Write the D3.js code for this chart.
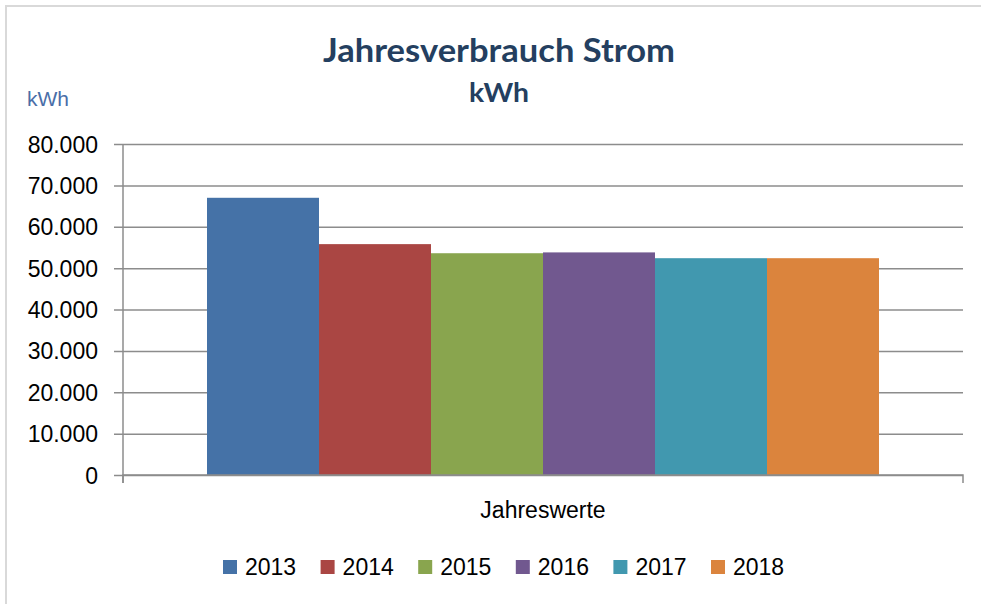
<!DOCTYPE html>
<html>
<head>
<meta charset="utf-8">
<script src="https://cdn.jsdelivr.net/npm/d3@7"></script>
<style>
  body { margin: 0; background: #fff; }
  svg { display: block; font-family: "Liberation Sans", Arial, sans-serif; }
</style>
</head>
<body>
<div id="chart"></div>
<script>
// data
const category = ["Jahreswerte"];
const years = ["2013", "2014", "2015", "2016", "2017", "2018"];
const values = [67000, 55800, 53600, 53800, 52400, 52400];
const colors = ["#4572a7", "#aa4643", "#89a54e", "#71588f", "#4198af", "#db843d"];
const yTicks = [0, 10000, 20000, 30000, 40000, 50000, 60000, 70000, 80000];

const W = 981, H = 604;
const margin = { top: 144, right: 18, bottom: 129, left: 123 };

const svg = d3.select("#chart").append("svg")
  .attr("width", W)
  .attr("height", H);

// outer chart frame (right/bottom edges fall outside the picture)
svg.append("rect")
  .attr("x", 6).attr("y", 6)
  .attr("width", W + 20).attr("height", H + 20)
  .attr("fill", "#fff")
  .attr("stroke", "#d9d9d9")
  .attr("stroke-width", 2);

const x0 = d3.scaleBand()
  .domain(category)
  .range([margin.left, W - margin.right]);

// Excel gap width 150% -> 0.75 step on each side
const x1 = d3.scaleBand()
  .domain(years)
  .range([0, x0.bandwidth()])
  .paddingInner(0)
  .paddingOuter(0.75);

const y = d3.scaleLinear()
  .domain([0, 80000])
  .range([H - margin.bottom, margin.top]);

const fmt = d3.formatLocale({ decimal: ",", thousands: ".", grouping: [3], currency: ["", "€"] }).format(",d");

// gridlines + y labels
const yAxis = d3.axisLeft(y)
  .tickValues(yTicks)
  .tickPadding(0)
  .tickFormat(fmt);

const gy = svg.append("g")
  .attr("transform", `translate(${margin.left},0)`)
  .call(yAxis);
gy.select(".domain").remove();
gy.selectAll(".tick line")
  .attr("x1", -9)
  .attr("x2", x0.range()[1] - margin.left)
  .attr("stroke", "#8c8c8c")
  .attr("stroke-width", 1.5);
gy.selectAll(".tick text")
  .attr("x", -25)
  .attr("dy", "0.35em")
  .attr("fill", "#000")
  .style("font-size", "23px")
  .style("font-family", "'Liberation Sans', Arial, sans-serif");

// y axis line
svg.append("line")
  .attr("x1", margin.left).attr("x2", margin.left)
  .attr("y1", y(80000)).attr("y2", y(0) + 8)
  .attr("stroke", "#8c8c8c")
  .attr("stroke-width", 1.5);

// bars
const g = svg.append("g")
  .attr("transform", `translate(${x0(category[0])},0)`);

g.selectAll("rect")
  .data(years)
  .join("rect")
  .attr("x", d => x1(d))
  .attr("width", x1.bandwidth())
  .attr("y", (d, i) => y(values[i]))
  .attr("height", (d, i) => y(0) - y(values[i]))
  .attr("fill", (d, i) => colors[i]);

// x axis
const gx = svg.append("g")
  .attr("transform", `translate(0,${y(0)})`)
  .call(d3.axisBottom(x0).tickSize(0).tickFormat(""));
gx.select(".domain")
  .attr("d", `M${margin.left},8V0H${W - margin.right}V8`)
  .attr("stroke", "#8c8c8c")
  .attr("stroke-width", 1.5)
  .attr("fill", "none");

svg.append("text")
  .attr("x", x0(category[0]) + x0.bandwidth() / 2)
  .attr("y", 518)
  .attr("text-anchor", "middle")
  .style("font-size", "23px")
  .text(category[0]);

// titles
svg.append("text")
  .attr("x", 499)
  .attr("y", 62)
  .attr("text-anchor", "middle")
  .attr("fill", "#243f60")
  .attr("textLength", 352)
  .attr("lengthAdjust", "spacingAndGlyphs")
  .style("font-family", "Lato, sans-serif")
  .style("font-size", "32px")
  .style("font-weight", "bold")
  .text("Jahresverbrauch Strom");

svg.append("text")
  .attr("x", 499)
  .attr("y", 102)
  .attr("text-anchor", "middle")
  .attr("fill", "#243f60")
  .attr("textLength", 60)
  .attr("lengthAdjust", "spacingAndGlyphs")
  .style("font-family", "Lato, sans-serif")
  .style("font-size", "27px")
  .style("font-weight", "bold")
  .text("kWh");

svg.append("text")
  .attr("x", 27)
  .attr("y", 106)
  .attr("fill", "#4a6ea8")
  .style("font-size", "21px")
  .text("kWh");

// legend
const legend = svg.append("g")
  .attr("transform", "translate(223,560)");

const item = legend.selectAll("g")
  .data(years)
  .join("g")
  .attr("transform", (d, i) => `translate(${i * 97.6},0)`);

item.append("rect")
  .attr("width", 14)
  .attr("height", 14)
  .attr("fill", (d, i) => colors[i]);

item.append("text")
  .attr("x", 22)
  .attr("y", 15)
  .style("font-size", "23px")
  .text(d => d);
</script>
</body>
</html>
